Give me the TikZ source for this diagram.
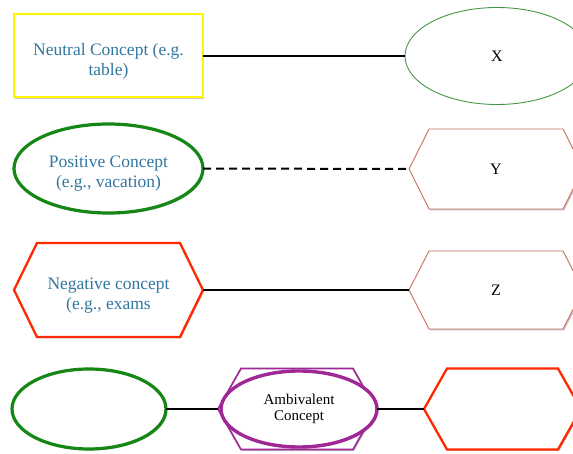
\documentclass[tikz,border=0pt]{standalone}
\usepackage{fontspec}
\setmainfont{Liberation Serif}
\usetikzlibrary{shapes.geometric,shadows}

\definecolor{conceptblue}{RGB}{50,120,160}
\definecolor{paleyellow}{RGB}{255,245,0}
\definecolor{thingreen}{RGB}{70,150,70}
\definecolor{boldgreen}{RGB}{20,135,20}
\definecolor{rustline}{RGB}{200,110,95}
\definecolor{hotred}{RGB}{255,40,0}
\definecolor{plum}{RGB}{160,40,150}

\pgfdeclarelayer{background}
\pgfsetlayers{background,main}

% outline of a six-sided box laid over a rectangular base node
\newcommand\hexoutline[3]{%
  \draw[#1] ([xshift=#3]#2.north west) -- ([xshift=-#3]#2.north east) -- (#2.east)
    -- ([xshift=-#3]#2.south east) -- ([xshift=#3]#2.south west) -- (#2.west) -- cycle;}
% tall strut that sets the first line of a label a little lower
\newcommand\lowstrut{\rule{0pt}{22pt}}

\tikzset{
  softshadow/.style={drop shadow={shadow xshift=1.2pt, shadow yshift=-1.5pt, opacity=0.22, fill=black}},
  concept/.style={font=\fontsize{17.5}{20}\selectfont, text=conceptblue, align=center},
  letter/.style={font=\fontsize{16}{18}\selectfont, text=black},
  hexbase/.style={rectangle, inner sep=0pt, outer sep=0pt},
  link/.style={draw=black, line width=2pt},
  neutralbox/.style={rectangle, draw=paleyellow, line width=2pt, fill=white, softshadow, outer sep=0pt},
  thinoval/.style={ellipse, draw=thingreen, line width=0.9pt, fill=white, outer sep=0pt},
  greenoval/.style={ellipse, draw=boldgreen, line width=3.2pt, fill=white, softshadow, outer sep=0pt},
  purpleoval/.style={ellipse, draw=plum, line width=3.4pt, fill=white, softshadow, outer sep=0pt},
  thinhex/.style={draw=rustline, line width=0.9pt, fill=white, softshadow},
  redhex/.style={draw=hotred, line width=2.3pt, fill=white, softshadow},
  purplehex/.style={draw=plum, line width=1.7pt, fill=white, softshadow},
}

\begin{document}
\begin{tikzpicture}[x=1pt, y=-1pt]
  \useasboundingbox (0,0) rectangle (573,454);

  % row 1: neutral concept
  \node[neutralbox, concept, minimum width=189pt, minimum height=83pt] (neutral) at (108.5,56)
    {\lowstrut Neutral Concept (e.g.\\table)};
  \node[thinoval, letter, minimum width=184pt, minimum height=97pt] (X) at (497,56) {X};

  % row 2: positive concept
  \node[greenoval, concept, minimum width=189pt, minimum height=89pt] (positive) at (108.5,168.5)
    {\lowstrut Positive Concept\\(e.g., vacation)};
  \node[hexbase, letter, minimum width=174pt, minimum height=80pt] (Y) at (496,169) {Y};

  % row 3: negative concept
  \node[hexbase, concept, minimum width=189pt, minimum height=94pt] (negative) at (108.5,290)
    {\lowstrut Negative concept\\(e.g., exams};
  \node[hexbase, letter, minimum width=174pt, minimum height=78pt] (Z) at (496,290) {Z};

  % row 4: ambivalent concept between a positive and a negative one
  \node[greenoval, minimum width=154pt, minimum height=80pt] (posblank) at (89,409) {};
  \node[hexbase, minimum width=158pt, minimum height=81pt] (ambhex) at (297,409) {};
  \node[purpleoval, minimum width=156pt, minimum height=76pt, align=center,
        font=\fontsize{15}{16}\selectfont] (ambivalent) at (299,409) {Ambivalent\\Concept};
  \node[hexbase, minimum width=157pt, minimum height=81pt] (negblank) at (502.5,409) {};

  \begin{pgfonlayer}{background}
    \hexoutline{thinhex}{Y}{20pt}
    \hexoutline{redhex}{negative}{23pt}
    \hexoutline{thinhex}{Z}{20pt}
    \hexoutline{purplehex}{ambhex}{23pt}
    \hexoutline{redhex}{negblank}{23pt}
  \end{pgfonlayer}

  % connectors
  \draw[link] (neutral.east) -- (X.west);
  \draw[link, dash pattern=on 8pt off 5pt] (positive.east) -- (Y.west);
  \draw[link] (negative.east) -- (Z.west);
  \draw[link] (posblank.east) -- (ambhex.west);
  \draw[link] (ambivalent.east) -- (negblank.west);
\end{tikzpicture}
\end{document}
